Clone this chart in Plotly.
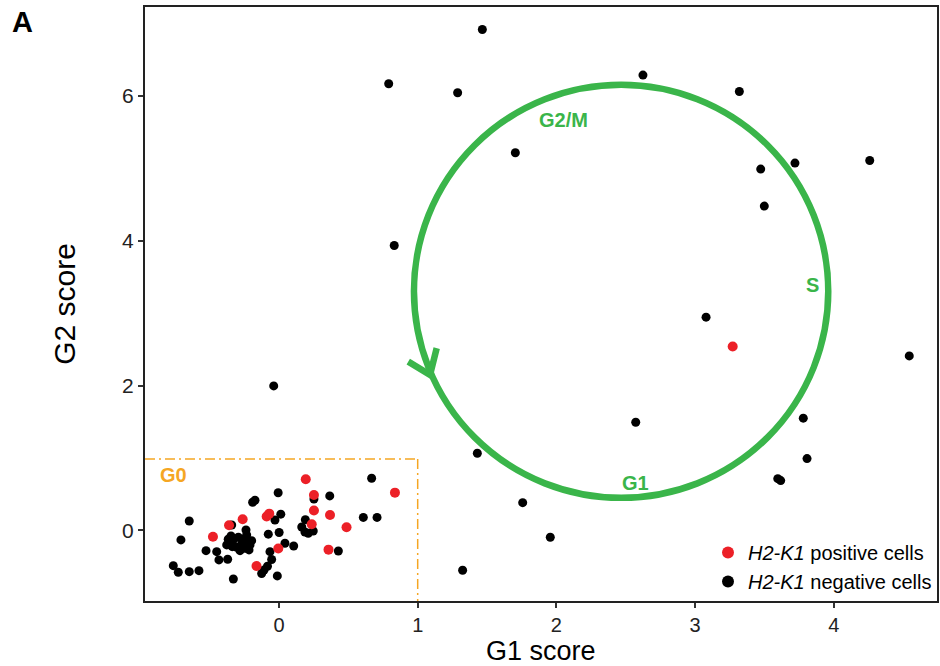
import plotly.graph_objects as go

# ---------------- data ----------------
pos_x = [0.193, 0.836, 0.252, 0.252, 0.368, -0.089, -0.070, -0.262, -0.360, 0.236,
         0.487, -0.476, -0.005, 0.357, -0.162, 3.271]
pos_y = [0.707, 0.522, 0.490, 0.276, 0.214, 0.193, 0.232, 0.155, 0.072, 0.086,
         0.044, -0.086, -0.249, -0.265, -0.490, 2.539]

neg_x = [1.466, 0.791, 1.288, 2.624, 1.704, 3.319, 3.473, 3.720, 4.259, 3.499,
         0.831, 3.079, 2.572, 4.544, 3.780, 3.807, 3.596, 3.617, -0.038, 1.430,
         1.757, 1.956, 1.324,
         0.668, -0.006, 0.366, -0.173, -0.190, 0.252, 0.013, -0.029, 0.190, 0.608,
         0.707, -0.647, -0.341, -0.238, 0.164, 0.187, 0.247, 0.211, -0.077, 0.001,
         -0.707, 0.043, 0.106, -0.526, -0.449, -0.433, -0.370, -0.065, 0.428, -0.053,
         -0.083, -0.108, -0.125, -0.762, -0.726, -0.647, -0.577, -0.012, -0.329,
         -0.346, -0.329, -0.293, -0.257, -0.233, -0.209, -0.269, -0.305, -0.245,
         -0.337, -0.377, -0.366, -0.281, -0.216, -0.197, -0.233]
neg_y = [6.917, 6.167, 6.043, 6.287, 5.214, 6.061, 4.989, 5.072, 5.108, 4.478,
         3.934, 2.945, 1.494, 2.410, 1.550, 0.992, 0.715, 0.688, 1.996, 1.066,
         0.384, -0.094, -0.550,
         0.721, 0.521, 0.477, 0.417, 0.390, 0.435, 0.225, 0.145, 0.149, 0.180,
         0.180, 0.131, 0.076, 0.007, 0.048, -0.021, -0.007, -0.039, -0.051, -0.028,
         -0.131, -0.177, -0.214, -0.279, -0.293, -0.407, -0.398, -0.293, -0.283, -0.401,
         -0.494, -0.546, -0.594, -0.486, -0.577, -0.569, -0.555, -0.628, -0.670,
         -0.076, -0.131, -0.094, -0.122, -0.155, -0.200, -0.186, -0.232, -0.246,
         -0.224, -0.200, -0.122, -0.279, -0.269, -0.141, -0.062]

x_ticks = [0, 1, 2, 3, 4]
y_ticks = [0, 2, 4, 6]
x_range = [-0.966, 4.744]
y_range = [-0.974, 7.227]

# cell-cycle annotation geometry (data units)
circle_box = dict(x0=0.973, x1=3.96, y0=0.45, y1=6.153)
arrow_pts = [(0.932, 2.331), (1.089, 2.148), (1.137, 2.517)]
g0_corner = (1.0, 0.988)
phase_labels = [("G2/M", 2.048, 5.669), ("S", 3.843, 3.391), ("G1", 2.571, 0.657)]

GREEN = "#3AB54A"
ORANGE = "#F5A623"
RED = "#EC2027"
FONT = "Liberation Sans, Arial, Helvetica, sans-serif"

fig = go.Figure()

fig.add_trace(go.Scatter(
    x=neg_x, y=neg_y, mode="markers",
    marker=dict(color="black", size=9),
    name="<i>H2-K1</i> negative cells", legendrank=2,
))
fig.add_trace(go.Scatter(
    x=pos_x, y=pos_y, mode="markers",
    marker=dict(color=RED, size=10),
    name="<i>H2-K1</i> positive cells", legendrank=1,
))

shapes = []
shapes.append(dict(type="circle", xref="x", yref="y", **circle_box,
                   line=dict(color=GREEN, width=6.5)))
path = "M {} {} L {} {} L {} {}".format(arrow_pts[0][0], arrow_pts[0][1],
                                         arrow_pts[1][0], arrow_pts[1][1],
                                         arrow_pts[2][0], arrow_pts[2][1])
shapes.append(dict(type="path", xref="x", yref="y", path=path,
                   line=dict(color=GREEN, width=6.5)))
shapes.append(dict(type="line", xref="x", yref="y", x0=x_range[0], x1=g0_corner[0],
                   y0=g0_corner[1], y1=g0_corner[1],
                   line=dict(color=ORANGE, width=1.5, dash="10px,4px,2px,4px")))
shapes.append(dict(type="line", xref="x", yref="y", x0=g0_corner[0], x1=g0_corner[0],
                   y0=g0_corner[1], y1=y_range[0],
                   line=dict(color=ORANGE, width=1.5, dash="10px,4px,2px,4px")))

annotations = []
for txt, ax, ay in phase_labels:
    annotations.append(dict(x=ax, y=ay, xref="x", yref="y", text="<b>%s</b>" % txt,
                            showarrow=False, font=dict(color=GREEN, size=20, family=FONT)))
annotations.append(dict(x=-0.871, y=0.762, xref="x", yref="y", text="<b>G0</b>",
                        xanchor="left", showarrow=False,
                        font=dict(color=ORANGE, size=20, family=FONT)))
annotations.append(dict(x=(22 - 145) / 792, y=(666 - 65 - 22) / 594,
                        xref="paper", yref="paper", text="<b>A</b>",
                        xanchor="center", yanchor="middle",
                        showarrow=False, font=dict(color="black", size=29, family=FONT)))
# x-axis title (placed as annotation so it sits just below the tick labels)
annotations.append(dict(x=0.5, y=(601 - 651) / 594, xref="paper", yref="paper",
                        text="G1 score", xanchor="center", yanchor="middle",
                        showarrow=False, font=dict(color="black", size=27, family=FONT)))

fig.update_layout(
    width=940, height=666,
    margin=dict(l=145, r=3, t=7, b=65, autoexpand=False),
    paper_bgcolor="white", plot_bgcolor="white",
    font=dict(family=FONT, color="black"),
    shapes=shapes,
    annotations=annotations,
    showlegend=True,
    legend=dict(x=1, y=0, xanchor="right", yanchor="bottom",
                bgcolor="rgba(0,0,0,0)", font=dict(size=20, family=FONT),
                itemsizing="constant", tracegroupgap=0),
)

fig.update_xaxes(range=x_range, tickvals=x_ticks, showgrid=False, zeroline=False,
                 showline=True, linecolor="#222", linewidth=2, mirror=True,
                 ticks="outside", ticklen=5, tickwidth=1.5, tickcolor="#333",
                 tickfont=dict(size=20, color="#222"), automargin=False)
fig.update_yaxes(range=y_range, tickvals=y_ticks, showgrid=False, zeroline=False,
                 showline=True, linecolor="#222", linewidth=2, mirror=True,
                 ticks="outside", ticklen=5, tickwidth=1.5, tickcolor="#333",
                 tickfont=dict(size=21, color="#222"), automargin=False,
                 title=dict(text="G2 score", font=dict(size=30), standoff=38))

fig.write_html("out.html")
